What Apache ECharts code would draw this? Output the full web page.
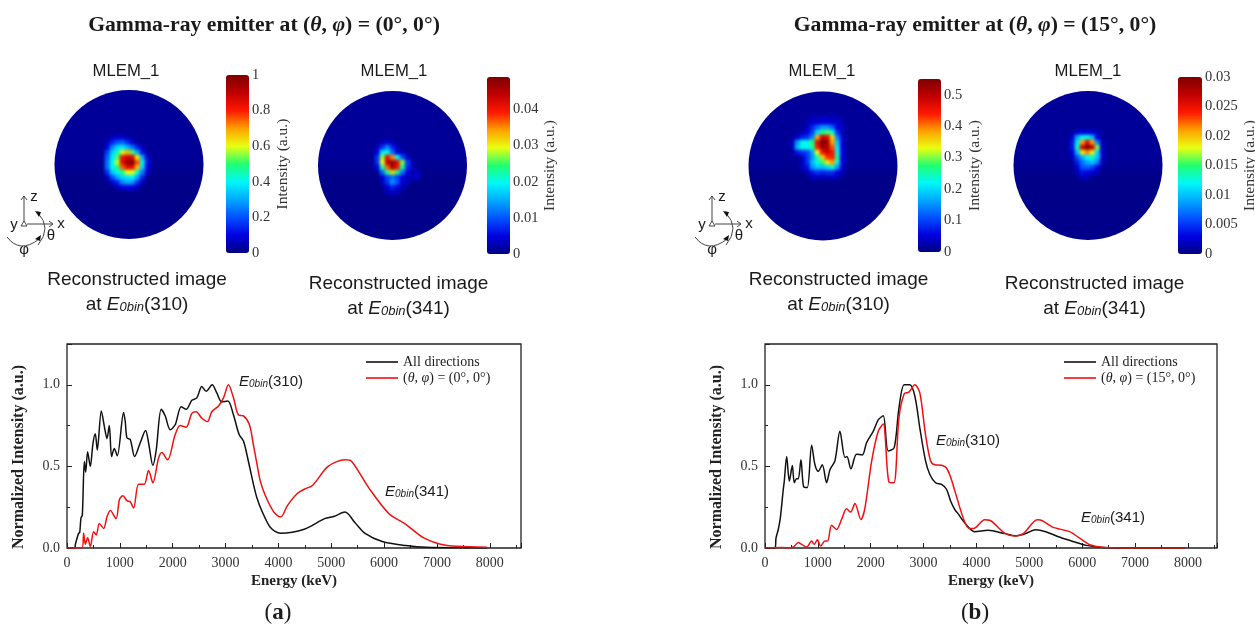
<!DOCTYPE html>
<html>
<head>
<meta charset="utf-8">
<style>
html,body{margin:0;padding:0;background:#fff;}
#main,#heat{position:absolute;left:0;top:0;width:1255px;height:630px;}
#heat{pointer-events:none;filter:blur(1.8px);}
</style>
<script src="https://cdn.jsdelivr.net/npm/echarts@6/dist/echarts.min.js"></script>
</head>
<body>
<div id="main"></div>
<div id="heat"></div>
<script>
// spectra: [energy keV, normalized intensity]
var allDirA = [[0,0],[150,0],[157,.02],[190,.06],[220,.09],[240,.094],[265,.185],[290,.2],[328,.53],[353,.465],[390,.59],[441,.5],[491,.64],[535,.7],[573,.6],[649,.84],[712,.735],[756,.67],[800,.75],[844,.56],[894,.61],[951,.565],[1071,.83],[1102,.775],[1134,.675],[1197,.665],[1279,.56],[1386,.645],[1487,.72],[1543,.645],[1625,.507],[1688,.6],[1783,.85],[1858,.81],[1953,.725],[2047,.755],[2161,.865],[2255,.85],[2362,.905],[2457,.92],[2551,.99],[2633,.96],[2747,1],[2835,.95],[2929,.895],[3043,.9],[3150,.815],[3257,.695],[3339,.655],[3433,.53],[3528,.39],[3591,.31],[3690,.225],[3850,.125],[4040,.09],[4490,.115],[4875,.18],[5060,.195],[5260,.22],[5450,.155],[5640,.09],[5964,.04],[6412,.015],[6800,.004],[7950,0]];
var dirA = [[0,0],[283,0],[315,.09],[346,.022],[390,.063],[441,.01],[504,.1],[554,.08],[611,.15],[693,.12],[756,.19],[819,.23],[926,.18],[995,.3],[1058,.32],[1134,.29],[1197,.283],[1260,.245],[1354,.39],[1462,.39],[1543,.475],[1625,.4],[1732,.55],[1795,.585],[1903,.54],[2047,.695],[2142,.75],[2255,.74],[2362,.825],[2444,.835],[2551,.795],[2658,.775],[2740,.835],[2866,.87],[2961,.92],[3055,1],[3150,.92],[3244,.815],[3339,.81],[3452,.755],[3528,.63],[3591,.52],[3658,.41],[3754,.32],[3914,.22],[4042,.19],[4170,.26],[4362,.335],[4490,.36],[4650,.385],[4940,.5],[5260,.54],[5387,.53],[5708,.37],[6092,.21],[6412,.145],[6733,.065],[7050,.025],[7373,.01],[7950,.005]];
var allDirB = [[0,0],[189,0],[208,.06],[252,.115],[290,.185],[346,.36],[365,.41],[410,.56],[460,.41],[517,.505],[554,.4],[598,.425],[630,.425],[680,.54],[731,.375],[800,.37],[882,.63],[945,.51],[1008,.47],[1084,.51],[1165,.4],[1229,.48],[1323,.535],[1417,.715],[1512,.555],[1550,.56],[1625,.485],[1732,.575],[1840,.57],[1921,.645],[2047,.715],[2142,.785],[2236,.81],[2331,.595],[2444,.615],[2533,.855],[2633,1],[2740,1],[2835,.93],[2929,.735],[3036,.535],[3118,.45],[3226,.4],[3339,.39],[3433,.36],[3515,.285],[3591,.235],[3640,.215],[3800,.145],[3964,.1],[4220,.108],[4540,.088],[4734,.075],[4926,.088],[5120,.112],[5311,.1],[5568,.067],[5824,.04],[6080,.016],[6337,.004],[6594,0],[7950,0]];
var dirB = [[0,0],[346,.003],[441,0],[535,.006],[630,.033],[693,.022],[788,.006],[882,.043],[932,.022],[989,.05],[1052,.012],[1134,.043],[1184,.043],[1260,.14],[1354,.114],[1449,.175],[1543,.24],[1619,.22],[1701,.272],[1814,.175],[1890,.245],[2016,.53],[2142,.715],[2236,.76],[2344,.405],[2438,.4],[2533,.795],[2633,.945],[2722,.955],[2835,1],[2929,.95],[3036,.695],[3131,.535],[3213,.51],[3339,.507],[3433,.49],[3515,.43],[3591,.35],[3770,.165],[3868,.12],[3950,.12],[4155,.173],[4250,.17],[4540,.09],[4734,.073],[4894,.09],[5150,.173],[5247,.167],[5440,.128],[5760,.1],[5952,.06],[6145,.02],[6370,.004],[6722,0],[7940,0]];

// colour bar tops and steps
var barMax = [1, 0.049, 0.55, 0.03];
var barStep = [0.2, 0.01, 0.1, 0.005];

// reconstructed images, % of the colour bar, 16x16 cells around the hot spot, rows from the top
var imgA310 = [
[0,0,0,0,0,0,0,0,0,0,0,0,0,0,0,0],
[0,0,0,0,0,0,0,0,0,0,0,0,0,0,0,0],
[0,0,0,0,0,0,0,0,0,0,0,0,0,0,0,0],
[0,0,0,0,0,0,0,0,0,0,0,0,0,0,0,0],
[0,0,0,0,0,0,0,0,0,0,0,0,0,0,0,0],
[0,0,0,0,0,6,8,8,6,0,0,0,0,0,0,0],
[0,0,0,0,6,14,20,22,16,8,0,0,0,0,0,0],
[0,0,0,0,10,26,36,38,32,24,14,6,0,0,0,0],
[0,0,0,0,18,35,44,58,68,52,30,12,0,0,0,0],
[0,0,0,0,22,38,52,82,88,86,62,30,8,0,0,0],
[0,0,0,0,24,40,58,85,95,100,76,42,12,0,0,0],
[0,0,0,0,24,40,50,75,85,85,68,36,10,0,0,0],
[0,0,0,0,16,34,40,48,60,60,44,24,8,0,0,0],
[0,0,0,0,6,20,30,36,38,40,30,14,0,0,0,0],
[0,0,0,0,0,8,14,26,30,28,16,6,0,0,0,0],
[0,0,0,0,0,0,6,8,10,10,6,0,0,0,0,0]];
var imgA341 = [
[0,0,0,0,0,0,0,0,0,0,0,0,0,0,0,0],
[0,0,0,0,0,0,0,0,0,0,0,0,0,0,0,0],
[0,0,0,0,0,0,0,0,0,0,0,0,0,0,0,0],
[0,0,0,0,0,6,8,6,0,0,0,0,0,0,0,0],
[0,0,0,0,6,16,26,14,6,0,0,0,0,0,0,0],
[0,0,0,0,10,38,42,24,10,6,0,0,0,0,0,0],
[0,0,0,0,16,55,85,72,40,20,8,0,0,0,0,0],
[0,0,0,0,16,60,90,95,85,55,18,6,0,0,0,0],
[0,0,0,0,10,45,75,95,82,48,16,6,0,0,0,0],
[0,0,0,0,0,22,48,65,48,24,10,6,7,0,0,0],
[0,0,0,0,0,8,18,24,18,10,6,6,7,0,0,0],
[0,0,0,0,0,6,16,28,20,8,6,0,0,0,0,0],
[0,0,0,0,0,0,8,14,10,6,0,0,0,0,0,0],
[0,0,0,0,0,0,6,6,6,0,0,0,0,0,0,0],
[0,0,0,0,0,0,0,0,0,0,0,0,0,0,0,0],
[0,0,0,0,0,0,0,0,0,0,0,0,0,0,0,0]];
var imgB310 = [
[0,0,0,0,0,0,0,0,0,0,0,0,0,0,0,0],
[0,0,0,0,0,6,6,6,6,6,6,0,0,0,0,0],
[0,0,0,0,6,8,8,10,10,8,8,6,0,0,0,0],
[0,0,0,0,6,14,22,28,28,22,10,6,0,0,0,0],
[0,0,0,6,10,18,36,48,52,42,16,6,0,0,0,0],
[0,0,8,14,16,26,70,88,85,65,26,8,0,0,0,0],
[0,6,28,40,40,50,85,100,95,70,34,8,0,0,0,0],
[0,6,32,42,40,48,80,95,92,76,38,10,0,0,0,0],
[0,0,12,16,18,30,60,82,88,82,42,10,0,0,0,0],
[0,0,0,6,16,28,45,65,78,80,48,10,0,0,0,0],
[0,0,0,6,16,32,42,50,62,70,42,10,0,0,0,0],
[0,0,0,6,12,28,34,32,36,44,28,8,0,0,0,0],
[0,0,0,0,6,12,16,14,16,16,10,6,0,0,0,0],
[0,0,0,0,0,6,6,6,6,6,6,0,0,0,0,0],
[0,0,0,0,0,0,0,0,0,0,0,0,0,0,0,0],
[0,0,0,0,0,0,0,0,0,0,0,0,0,0,0,0]];
var imgB341 = [
[0,0,0,0,0,0,0,0,0,0,0,0,0,0,0,0],
[0,0,0,0,0,0,0,0,0,0,0,0,0,0,0,0],
[0,0,0,0,0,0,0,0,0,0,0,0,0,0,0,0],
[0,0,0,0,0,8,10,10,8,6,0,0,0,0,0,0],
[0,0,0,0,8,30,40,42,32,10,0,0,0,0,0,0],
[0,0,0,0,12,38,70,85,70,26,6,0,0,0,0,0],
[0,0,0,0,12,45,88,100,90,55,8,0,0,0,0,0],
[0,0,0,0,8,32,62,72,62,36,8,0,0,0,0,0],
[0,0,0,0,6,20,32,40,44,34,8,0,0,0,0,0],
[0,0,0,0,0,14,24,30,34,26,6,0,0,0,0,0],
[0,0,0,0,0,8,20,22,18,10,0,0,0,0,0,0],
[0,0,0,0,0,6,12,10,8,6,0,0,0,0,0,0],
[0,0,0,0,0,0,6,6,0,0,0,0,0,0,0,0],
[0,0,0,0,0,0,0,0,0,0,0,0,0,0,0,0],
[0,0,0,0,0,0,0,0,0,0,0,0,0,0,0,0],
[0,0,0,0,0,0,0,0,0,0,0,0,0,0,0,0]];
var images = [imgA310, imgA341, imgB310, imgB341];
var cellIdx = [0,1,2,3,4,5,6,7,8,9,10,11,12,13,14,15];

var serif = '"Liberation Serif"';
var sans = '"Liberation Sans"';
var jet = ['#00007f','#0000e0','#0050ff','#00a8ff','#00f8f8','#20ff70','#e8ff10','#ffa000','#ff1800','#c00000','#7f0000'];

// panel boxes on the page
var plotLeft = [67, 765];
var plotWidth = [454, 452];
var plotMax = [8590, 8550];
var discs = [[129,164.5],[392.5,165.5],[823,166],[1088,165.5]];
var discR = 74.5;
var heatBox = [[85,110],[355,125],[785,110],[1050,115]];
var bars = [
    {x:226, y:75, w:23, h:178, gap:26},
    {x:487, y:77, w:23, h:177, gap:32},
    {x:918, y:79, w:23, h:173, gap:26},
    {x:1178, y:77, w:24, h:177, gap:36}
];

var grids = [], xAxes = [], yAxes = [], series = [], visuals = [], gfx = [];

function hideAxis(i, min, max){
    return {gridIndex:i, type:'value', min:min, max:max, show:false};
}

// line charts
plotLeft.forEach(function(left, i){
    grids.push({left:left, top:344, width:plotWidth[i], height:204, outerBoundsMode:'none', show:true, borderColor:'#222', borderWidth:1.3, backgroundColor:'transparent'});
    xAxes.push({
        gridIndex:i, type:'value', min:0, max:plotMax[i], interval:1000,
        name:'Energy (keV)', nameLocation:'middle', nameGap:26,
        nameTextStyle:{fontFamily:serif, fontWeight:'bold', fontSize:15, color:'#222'},
        axisLine:{show:false},
        axisTick:{inside:true, length:5, lineStyle:{color:'#222', width:1}},
        minorTick:{show:true, splitNumber:2, length:3, lineStyle:{color:'#222', width:1}},
        splitLine:{show:false}, minorSplitLine:{show:false},
        axisLabel:{fontFamily:serif, fontSize:14, color:'#333', margin:8, showMaxLabel:false,
            formatter:function(v){return String(v);}}
    });
    yAxes.push({
        gridIndex:i, type:'value', min:0, max:1.25, interval:0.5,
        name:'Normalized Intensity (a.u.)', nameLocation:'middle', nameGap:40, nameRotate:90,
        nameTextStyle:{fontFamily:serif, fontWeight:'bold', fontSize:16, color:'#222', padding:[0,22,0,0]},
        axisLine:{show:false},
        axisTick:{inside:true, length:5, lineStyle:{color:'#222', width:1}},
        minorTick:{show:true, splitNumber:2, length:3, lineStyle:{color:'#222', width:1}},
        splitLine:{show:false}, minorSplitLine:{show:false},
        axisLabel:{fontFamily:serif, fontSize:14, color:'#333', margin:7, showMaxLabel:false,
            formatter:function(v){return v.toFixed(1);}}
    });
});
var redNames = ['(θ, φ) = (0°, 0°)', '(θ, φ) = (15°, 0°)'];
[[allDirA, dirA],[allDirB, dirB]].forEach(function(pair, i){
    series.push({name:'All directions', type:'line', xAxisIndex:i, yAxisIndex:i, data:pair[0], symbol:'none', smooth:0.3, lineStyle:{color:'#111', width:1.5}, itemStyle:{color:'#111'}, z:3});
    series.push({name:redNames[i], type:'line', xAxisIndex:i, yAxisIndex:i, data:pair[1], symbol:'none', smooth:0.3, lineStyle:{color:'#f01010', width:1.5}, itemStyle:{color:'#f01010'}, z:4});
});

// discs
discs.forEach(function(d, i){
    var gi = grids.length;
    grids.push({left:d[0]-discR, top:d[1]-discR, width:2*discR, height:2*discR, outerBoundsMode:'none'});
    xAxes.push(hideAxis(gi,-1,1));
    yAxes.push(hideAxis(gi,-1,1));
    series.push({
        type:'scatter', xAxisIndex:gi, yAxisIndex:gi, data:[[0,0]], symbol:'circle', symbolSize:2*discR, clip:false, silent:true,
        itemStyle:{opacity:1, color:{type:'linear', x:0, y:0, x2:0, y2:1, colorStops:[{offset:0,color:'#00009a'},{offset:0.45,color:'#000098'},{offset:0.6,color:'#000088'},{offset:1,color:'#00008c'}]}}
    });
});

// colour bars
bars.forEach(function(b, i){
    var gi = grids.length;
    grids.push({left:b.x, top:b.y, width:b.w, height:b.h, outerBoundsMode:'none'});
    xAxes.push(hideAxis(gi,0,1));
    yAxes.push({
        gridIndex:gi, type:'value', position:'right', min:0, max:barMax[i], interval:barStep[i],
        name:'Intensity (a.u.)', nameLocation:'middle', nameGap:b.gap, nameRotate:90,
        nameTextStyle:{fontFamily:serif, fontSize:15.5, color:'#333'},
        axisLine:{show:false}, axisTick:{show:false}, splitLine:{show:false},
        axisLabel:{fontFamily:serif, fontSize:14.5, color:'#333', margin:3, showMaxLabel:(i==0||i==3),
            formatter:function(v){return String(+v.toFixed(4));}}
    });
    visuals.push({
        type:'continuous', seriesIndex:[], min:0, max:barMax[i], calculable:false, realtime:false,
        left:b.x, top:b.y, itemWidth:b.w, itemHeight:b.h, padding:0, text:null, hoverLink:false,
        showLabel:false, inRange:{color:jet}
    });
});

// text helpers
function txt(x, y, text, size, family, extra){
    var style = {x:0, y:0, text:text, fontSize:size, fontFamily:family, fill:'#1a1a1a', align:'center', verticalAlign:'middle'};
    for(var k in extra){style[k] = extra[k];}
    gfx.push({type:'text', x:x, y:y, silent:true, z:20, style:style});
}
function e0rich(size){
    return {
        e:{fontStyle:'italic', fontSize:size, fontFamily:sans, fill:'#1a1a1a'},
        s:{fontStyle:'italic', fontSize:Math.round(size*0.68), fontFamily:sans, fill:'#1a1a1a', padding:[5,0,0,0]}
    };
}
function titleRich(){
    return {
        i:{fontStyle:'italic', fontWeight:'bold', fontSize:21.7, fontFamily:serif, fill:'#1a1a1a'}
    };
}
txt(264, 25, 'Gamma-ray emitter at ({i|θ}, {i|φ}) = (0°, 0°)', 21.7, serif, {fontWeight:'bold', rich:titleRich()});
txt(975, 25, 'Gamma-ray emitter at ({i|θ}, {i|φ}) = (15°, 0°)', 21.7, serif, {fontWeight:'bold', rich:titleRich()});

[[126,71],[394,71],[822,71],[1088,71]].forEach(function(p){
    txt(p[0], p[1], 'MLEM_1', 16.7, sans);
});
[[137,'310'],[398.5,'341'],[838.5,'310'],[1094.5,'341']].forEach(function(p, i){
    txt(p[0], i%2==0 ? 280 : 284, 'Reconstructed image', 19, sans);
    txt(p[0], i%2==0 ? 305 : 309, 'at {e|E}{s|0bin}('+p[1]+')', 19, sans, {rich:e0rich(19)});
});
[[271,382,'310'],[417,492,'341'],[968,441,'310'],[1113,518,'341']].forEach(function(p){
    txt(p[0], p[1], '{e|E}{s|0bin}('+p[2]+')', 15, sans, {rich:e0rich(15)});
});
[[278,613,'a'],[975,613,'b']].forEach(function(p){
    txt(p[0], p[1], '({b|'+p[2]+'})', 23, serif, {rich:{b:{fontWeight:'bold', fontSize:23, fontFamily:serif, fill:'#1a1a1a'}}});
});

// axes sketch next to the left image of each panel
[0, 688].forEach(function(dx){
    var ink = {stroke:'#444', lineWidth:1, fill:null};
    function poly(pts){
        gfx.push({type:'polyline', silent:true, z:20, shape:{points:pts.map(function(p){return [p[0]+dx,p[1]];})}, style:ink});
    }
    function curve(a, c, b){
        gfx.push({type:'bezierCurve', silent:true, z:20, shape:{x1:a[0]+dx,y1:a[1],cpx1:c[0]+dx,cpy1:c[1],x2:b[0]+dx,y2:b[1]}, style:ink});
    }
    function head(pts){
        gfx.push({type:'polygon', silent:true, z:20, shape:{points:pts.map(function(p){return [p[0]+dx,p[1]];})}, style:{fill:'#111'}});
    }
    poly([[24,222],[24,196]]); poly([[21,200],[24,196],[27,200]]);
    poly([[27,224],[53,224]]); poly([[49,221],[53,224],[49,227]]);
    poly([[21,226],[27,226],[24,221],[21,226]]);
    curve([38,213],[52,228],[38,245]);
    curve([7,237],[20,254],[39,239]);
    head([[35,211],[41,212],[39,217]]);
    head([[41,235],[40,241],[35,239]]);
    txt(34+dx, 197, 'z', 15, sans);
    txt(61+dx, 224, 'x', 15, sans);
    txt(14+dx, 225, 'y', 15, sans);
    txt(51+dx, 236, 'θ', 15, sans);
    txt(24+dx, 250, 'φ', 15, sans);
});

function legendFmt(name){
    return name.replace('θ','{i|θ}').replace('φ','{i|φ}');
}
var legends = [0,1].map(function(i){
    return {
        left:plotLeft[i]+299, top:355, orient:'vertical', padding:0, itemGap:2,
        itemWidth:32, itemHeight:1.6, icon:'rect', selectedMode:false,
        data:['All directions', redNames[i]], formatter:legendFmt,
        textStyle:{fontFamily:serif, fontSize:14, color:'#222', rich:{i:{fontStyle:'italic', fontFamily:serif, fontSize:14, color:'#222'}}}
    };
});

var chart = echarts.init(document.getElementById('main'), null, {renderer:'canvas'});
chart.setOption({
    animation:false, backgroundColor:'#fff',
    grid:grids, xAxis:xAxes, yAxis:yAxes, series:series,
    visualMap:visuals, legend:legends, graphic:{elements:gfx}
});

// hot spots go on a second, softened layer so the cells melt together
var heatGrids = [], heatX = [], heatY = [], heatSeries = [], heatVisual = [];
images.forEach(function(rows, i){
    heatGrids.push({left:heatBox[i][0], top:heatBox[i][1], width:80, height:80, outerBoundsMode:'none'});
    heatX.push({gridIndex:i, type:'category', data:cellIdx, show:false});
    heatY.push({gridIndex:i, type:'category', data:cellIdx, show:false, inverse:true});
    var cells = [];
    rows.forEach(function(row, r){
        row.forEach(function(v, c){
            if(v>0){cells.push([c, r, v*barMax[i]/100]);}
        });
    });
    heatSeries.push({type:'heatmap', xAxisIndex:i, yAxisIndex:i, data:cells, progressive:0, silent:true});
    heatVisual.push({type:'continuous', show:false, seriesIndex:i, min:0, max:barMax[i], inRange:{color:jet}});
});
var heat = echarts.init(document.getElementById('heat'));
heat.setOption({
    animation:false, backgroundColor:'transparent',
    grid:heatGrids, xAxis:heatX, yAxis:heatY, series:heatSeries, visualMap:heatVisual
});
</script>
</body>
</html>
